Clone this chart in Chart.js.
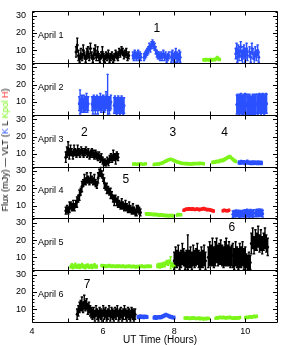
<!DOCTYPE html>
<html>
<head>
<meta charset="utf-8">
<script src="https://cdn.jsdelivr.net/npm/chart.js@4.4.1/dist/chart.umd.min.js"></script>
<style>
  body { margin: 0; background: #fff; }
  #wrap { position: relative; width: 282px; height: 345px; }
  #ytitle {
    position: absolute; left: 5px; top: 150px;
    transform: translate(-50%, -50%) rotate(-90deg);
    white-space: nowrap; font: 9px "Liberation Sans", Arial, sans-serif; color: #000;
  }
</style>
</head>
<body>
<div id="wrap">
  <canvas id="myChart" width="282" height="345"></canvas>
  <div id="ytitle">Flux (mJy) — VLT (<span style="color:#2b50ff">K</span> L <span style="color:#7cf51a">Kpol</span> <span style="color:#ff1a1a">H</span>)</div>
</div>
<script>
let days = ["April 1", "April 2", "April 3", "April 4", "April 5", "April 6"];
let xTickLabels = [4, 6, 8, 10];
let xTickHours = [4, 5, 6, 7, 8, 9, 10];
let yTickLabels = [10, 20, 30];

let bandColors = { L: "#000000", K: "#2b50ff", Kpol: "#7cf51a", H: "#ff1a1a" };

// flare numbers: panel, UT hour, flux, text
let flareLabels = [
  [0, 7.51, 22.5, "1"], [2, 5.47, 22, "2"], [2, 7.96, 22, "3"], [2, 9.42, 22, "4"],
  [3, 6.64, 24.7, "5"], [4, 9.62, 27, "6"], [5, 5.55, 24, "7"]
];

// April 1
let a1L = [9,13,7,5,8,6,10,7,5,8,9,6,11,7,5,8,10,6,9,6,5,7,9,6,5,7,6,8,5,6,7,5,6,8,7,6,9,8,10,9,7,8,9,6,7];
let a1LErr = [3,4,3,2,3,2,3,2,2,3,3,2,3,2,2,3,3,2,3,2,2,2,3,2,2,2,2,2,2,2,2,2,2,2,2,2,2,2,2,2,2,2,2,2,2];
let a1K1 = [7,6,8,7,6,7,8,6,7,6];
let a1K2 = [6,7,8,9,10,12,11,13,14,13,12,10,8,7];
let a1K3 = [7,6,7,6,8,6,7,5,6,7];
let a1K4 = [6,7,5,6,8,6,5,7,6];
let a1Kpol = [4.5,4.3,4.6,4.4,4.5,4.3,4.6,4.4,4.5,4.7,4.5,5.2,5.8,4.9,4.6];
let a1K5 = [8,11,6,10,7,9,12,7,5,9,10,6,8,11,7];
let a1K6 = [9,6,11,8,5,9,7,10,6];

// April 2
let a2K1 = [9,10,8,9,10,8,9,8,9,10,8,9];
let a2K1Err = [4,7,4,5,4,4,5,4,4,5,4,4];
let a2K2 = [9,8,10,9,8,9,10,8,9,9,10,8,9,10,9,8,9,11,10,12,9,8,9,10];
let a2K2Err = [4,5,4,4,5,4,4,5,4,4,5,4,4,4,5,4,4,5,4,14,4,5,4,4];
let a2K3 = [8,9,8,7,8,9,8,7,8,9,8,7,8];
let a2K4 = [8.5,9,8.5,8,9,9.5,8.5,8,9,8.5,9.5,9];
let a2K5 = [8,9,8,9,8,7.5,8,9,8,9,8,9];
let a2K6 = [9,8,9,9.5,9,8,9,9.5,9,8,9,9.5,9];

// April 3
let a3L = [8,11,13,10,12,11,9,12,11,10,12,11,10,12,11,10,11,12,10,11,9,10,11,10,9,10,9,8,9,7,8,6,5,5,4,6,5,7,8,7,9,8,7,9,8];
let a3LErr = [3,3,4,3,3,2,2,3,2,2,3,2,2,2,2,2,2,2,2,2,2,2,2,2,2,2,2,2,2,2,2,2,2,2,2,2,2,2,2,2,3,2,3,2,2];
let a3Kpol1 = [4,4.2,3.9,4.1,4,4.3,4.1,3.9,4,4.2];
let a3Kpol2 = [3.8,3.9,4.0,4.1,4.0,4.3,4.5,4.8,5.2,5.6,6.0,6.4,6.6,6.8,6.6,6.4,6.0,5.7,5.4,5.1,4.9,4.7,4.5,4.4,4.3,4.2,4.3,4.1,4.2,4.0,4.1,4.3,4.2,4.4,4.3,4.2,4.5,4.4,4.3,4.2];
let a3Kpol3 = [5.0,5.2,5.1,5.4,5.6,5.5,5.9,6.2,6.0,6.4,6.8,7.2,7.6,8.0,8.3,7.9,7.2,6.6,6.0,5.6];
let a3K = [5.0,4.8,5.2,4.9,5.1,4.7,5.0,5.3,4.9,4.8,4.6,4.9,4.7,5.0,4.8,4.6,4.9,4.7,4.8,4.6];

// April 4
let a4L = [7,8,7,9,10,9,10,9,11,12,14,16,18,21,23,25,24,26,25,24,26,25,24,25,23,22,26,29,30,28,26,23,21,20,19,18,17,16,14,13,14,12,12,11,10,11,10,9,10,9,8,9,8,7,8,7,6,7,8,7,6];
let a4LErr = [2,2,2,3,2,2,3,2,2,3,2,3,2,3,2,3,2,3,2,2,3,2,2,3,2,2,3,2,3,2,2,3,2,3,2,2,3,2,2,3,2,2,3,2,2,3,2,2,3,2,2,3,2,2,3,2,2,3,2,2,2];
let a4Kpol1 = [5.2,5.0,5.3,4.9,5.1,4.8,5.0,4.7,4.9,4.6,4.8,4.5,4.4,4.6,4.3,4.5,4.2,4.4,4.1,4.3,4.0,4.2,4.1,4.3,4.0];
let a4Kpol2 = [4.5,4.8,4.6,4.7];
let a4H1 = [7.2,7.5,7.8,8.0,7.9,8.2,8.0,7.8,8.1,7.9,7.7,7.9,8.0,7.8,7.6,7.8,7.9,8.1,8.3,8.0,7.8,7.6,7.7,7.5,7.4,7.2,7.0,6.8];
let a4H2 = [7.0,7.2,7.1,6.9,7.0,7.2];
let a4K1 = [5.0,5.4,5.1,5.6,5.2,5.5,5.0,5.3,5.1,5.4];
let a4K2 = [5.3,5.6,5.2,5.8,5.4,5.1,5.7,5.5,5.2,5.6];
let a4K3 = [5.5,5.9,5.4,6.0,5.6,5.8,5.3];

// April 5
let a5Kpol1 = [4.5,5.5,4.2,4.8,5.8,4.4,4.6,5.2,4.3,4.9,5.6,4.5,4.7,4.2,5.0,5.4,4.4,4.6,5.1,4.3,4.8,5.5,4.5,4.6];
let a5Kpol2 = [5.2,4.9,5.1,4.7,5.0,4.8,5.2,4.9,4.7,5.0,4.8,4.6,4.9,4.7,5.0,4.8,4.6,4.9,4.7,4.5,4.8,4.6,4.9,4.7,4.5,4.8,4.6,4.4,4.7,4.5,4.8,4.6,4.9,4.7,4.5,4.8,4.6,4.9,4.7,4.8];
let a5Kpol3 = [5.0,5.4,4.8,5.6,5.2,6.0,5.5,6.6,7.2,6.4,7.5,6.8,5.8,5.2,4.9];
let a5Kpol3Err = [1,1,1,1,1,1,1,1,1,1,1,3.5,1,1,1];
let a5L1 = [8,10,9,11,8,9,12,10,8,9,13,9,10,8,11,9,10,12,9,8,10,9,11,8];
let a5L1Err = [5,6,5,6,5,5,6,5,5,5,10,5,6,5,6,5,5,6,5,5,6,5,6,5];
let a5L2 = [10,12,11,13,10,12,14,11,12,13,11,10,12,13,11,12,10,11];
let a5L2Err = [6,7,6,8,6,7,7,6,6,7,6,6,7,8,6,7,6,6];
let a5L3 = [11,9,12,10,9,11,10,12,9,10];
let a5L3Err = [7,6,7,6,6,7,6,7,6,6];
let a5L4 = [8,7,8,7];
let a5L4Err = [4,4,5,4];
let a5L5 = [18,21,17,20,19,22,18,20,17,19,21,18,16];
let a5L5Err = [6,6,5,6,5,6,5,6,5,5,6,5,5];

// April 6
let a6L = [7,9,11,12,13,11,14,12,13,10,11,9,8,7,8,6,9,7,6,8,7,6,9,7,8,6,7,9,6,8,7,6,8,7,9,6,7,8,6,7,9,7,6,8,7,6,8,7,6,7];
let a6LErr = [3,3,3,3,4,3,4,3,3,3,3,3,3,3,3,3,3,3,3,3,3,3,3,3,3,3,3,3,3,3,3,3,3,3,3,3,3,3,3,3,3,3,3,3,3,3,3,3,3,3];
let a6K1 = [5.5,5.2,5.8,5.4,5.6,5.3,5.7,5.5,5.4];
let a6K2 = [5.0,5.3,4.9,5.2,5.4,5.1,5.3,5.6,5.9,6.3,6.6,6.4,6.1,5.8,5.5,5.3,5.1,5.0];
let a6Kpol1 = [4.8,4.6,4.9,4.7,4.5,4.8,4.6,4.9,4.7,4.5,4.6,4.8,4.4,4.7,4.5,4.3,4.6,4.4,4.7,4.5];
let a6Kpol2 = [4.7,5.0,4.8,5.3,5.1,4.9,5.2,5.0,4.8,5.1,4.9,5.3,5.0,4.8,4.6,4.9,4.7,5.0,4.8,5.1];
let a6Kpol3 = [5.0,5.3,5.1,5.4,5.6,5.3,5.5,5.8,5.6,5.9];

// panel, band, first UT, last UT, fluxes, errors
let segments = [
  [0, "L", 5.24, 6.72, a1L, a1LErr],
  [0, "K", 6.84, 7.06, a1K1, 2],
  [0, "K", 7.15, 7.54, a1K2, 2],
  [0, "K", 7.57, 7.85, a1K3, 2],
  [0, "K", 7.92, 8.17, a1K4, 3],
  [0, "Kpol", 8.83, 9.28, a1Kpol, 0.6],
  [0, "K", 9.73, 10.06, a1K5, 3],
  [0, "K", 10.12, 10.38, a1K6, 3],

  [1, "K", 5.33, 5.58, a2K1, a2K1Err],
  [1, "K", 5.69, 6.22, a2K2, a2K2Err],
  [1, "K", 6.31, 6.59, a2K3, 4.5],
  [1, "K", 9.76, 10.02, a2K4, 5.5],
  [1, "K", 10.05, 10.30, a2K5, 5.5],
  [1, "K", 10.33, 10.60, a2K6, 5.5],

  [2, "L", 4.95, 6.42, a3L, a3LErr],
  [2, "Kpol", 6.85, 7.20, a3Kpol1, 0.5],
  [2, "Kpol", 7.43, 8.83, a3Kpol2, 0.6],
  [2, "Kpol", 9.08, 9.73, a3Kpol3, 0.7],
  [2, "K", 9.82, 10.46, a3K, 0.9],

  [3, "L", 4.95, 7.05, a4L, a4LErr],
  [3, "Kpol", 7.21, 7.97, a4Kpol1, 0.6],
  [3, "Kpol", 8.08, 8.19, a4Kpol2, 0.6],
  [3, "H", 8.27, 9.11, a4H1, 0.6],
  [3, "H", 9.37, 9.54, a4H2, 0.6],
  [3, "K", 9.65, 9.93, a4K1, 1.8],
  [3, "K", 9.96, 10.24, a4K2, 2],
  [3, "K", 10.29, 10.49, a4K3, 2],

  [4, "Kpol", 5.09, 5.82, a5Kpol1, 0.8],
  [4, "Kpol", 5.96, 7.34, a5Kpol2, 0.6],
  [4, "Kpol", 7.53, 8.0, a5Kpol3, a5Kpol3Err],
  [4, "L", 8.0, 8.88, a5L1, a5L1Err],
  [4, "L", 8.96, 9.62, a5L2, a5L2Err],
  [4, "L", 9.65, 10.0, a5L3, a5L3Err],
  [4, "L", 10.03, 10.14, a5L4, a5L4Err],
  [4, "L", 10.17, 10.63, a5L5, a5L5Err],

  [5, "L", 5.27, 6.90, a6L, a6LErr],
  [5, "K", 6.98, 7.24, a6K1, 0.8],
  [5, "K", 7.43, 8.0, a6K2, 0.8],
  [5, "Kpol", 8.30, 8.97, a6Kpol1, 0.6],
  [5, "Kpol", 9.17, 9.85, a6Kpol2, 0.6],
  [5, "Kpol", 10.0, 10.32, a6Kpol3, 0.6]
];

let font = "'Liberation Sans', Arial, sans-serif";

let datasets = segments.map(([panel, band, t0, t1, vals, errs]) => ({
  data: vals.map((v, i) => ({ x: t0 + (t1 - t0) * i / (vals.length - 1), y: v })),
  errs: vals.map((v, i) => Array.isArray(errs) ? errs[i] : errs),
  yAxisID: "y" + panel,
  backgroundColor: bandColors[band],
  borderColor: bandColors[band],
  pointRadius: 1.5,
  pointBorderWidth: 0,
  showLine: false
}));

let scales = {
  x: {
    type: "linear", position: "bottom", min: 4, max: 10.92,
    afterBuildTicks: s => { s.ticks = xTickLabels.map(v => ({ value: v })); },
    afterFit: s => { s.height = 23; },
    grid: { display: false, drawTicks: false },
    border: { display: false },
    ticks: { padding: 4, color: "#000", font: { family: font, size: 9 } }
  }
};
days.forEach((d, k) => {
  scales["y" + k] = {
    type: "linear", position: "left", stack: "days", stackWeight: 1, weight: 6 - k,
    min: 2.5, max: 32.5,
    afterBuildTicks: s => { s.ticks = yTickLabels.map(v => ({ value: v })); },
    afterFit: s => { s.width = 32; },
    grid: { display: false, drawTicks: false },
    border: { display: false },
    ticks: { padding: 6, color: "#000", font: { family: font, size: 9 } }
  };
});

// error bars, frame, inward ticks and panel texts
let framePlugin = {
  id: "frame",
  beforeDatasetsDraw(chart) {
    const { ctx, chartArea: a } = chart;
    const x = chart.scales.x;
    chart.data.datasets.forEach(ds => {
      const ys = chart.scales[ds.yAxisID];
      ctx.save();
      ctx.beginPath();
      ctx.rect(a.left, ys.top, a.right - a.left, ys.bottom - ys.top);
      ctx.clip();
      ctx.strokeStyle = ds.borderColor;
      ctx.lineWidth = 1.4;
      ctx.beginPath();
      ds.data.forEach((p, j) => {
        const px = x.getPixelForValue(p.x);
        const lo = ys.getPixelForValue(p.y - ds.errs[j]);
        const hi = ys.getPixelForValue(p.y + ds.errs[j]);
        ctx.moveTo(px, lo); ctx.lineTo(px, hi);
        ctx.moveTo(px - 1.2, lo); ctx.lineTo(px + 1.2, lo);
        ctx.moveTo(px - 1.2, hi); ctx.lineTo(px + 1.2, hi);
      });
      ctx.stroke();
      ctx.restore();
    });
  },
  afterDraw(chart) {
    const { ctx, chartArea: a } = chart;
    const x = chart.scales.x;
    ctx.save();
    ctx.strokeStyle = "#000";
    ctx.lineWidth = 1;
    ctx.fillStyle = "#000";
    days.forEach((day, k) => {
      const ys = chart.scales["y" + k];
      const top = Math.round(ys.top) + 0.5, bot = Math.round(ys.bottom) + 0.5;
      ctx.beginPath();
      ctx.rect(a.left + 0.5, top, a.right - a.left - 1, bot - top);
      xTickHours.forEach(h => {
        const px = Math.round(x.getPixelForValue(h)) + 0.5;
        ctx.moveTo(px, bot); ctx.lineTo(px, bot - 4);
        ctx.moveTo(px, top); ctx.lineTo(px, top + 4);
      });
      for (let v = 4; v <= 32; v += 2) {
        const py = Math.round(ys.getPixelForValue(v)) + 0.5;
        const len = v % 10 === 0 ? 5 : 2.5;
        ctx.moveTo(a.left, py); ctx.lineTo(a.left + len, py);
        ctx.moveTo(a.right, py); ctx.lineTo(a.right - len, py);
      }
      ctx.stroke();
      ctx.font = "9px " + font;
      ctx.textAlign = "left";
      ctx.textBaseline = "middle";
      ctx.fillText(day, x.getPixelForValue(4.17), ys.getPixelForValue(18.5));
    });
    ctx.font = "12px " + font;
    ctx.textAlign = "center";
    flareLabels.forEach(([k, t, f, s]) => {
      ctx.fillText(s, x.getPixelForValue(t), chart.scales["y" + k].getPixelForValue(f));
    });
    ctx.font = "10px " + font;
    ctx.fillText("UT Time (Hours)", x.getPixelForValue(7.6), x.bottom - 4.5);
    ctx.restore();
  }
};

let ctx = document.getElementById("myChart").getContext("2d");

let myChart = new Chart(ctx, {
  type: "scatter",
  data: { datasets: datasets },
  options: {
    responsive: false,
    animation: false,
    devicePixelRatio: 1,
    layout: { padding: { top: 0, right: 3.5, bottom: 0, left: 0 } },
    scales: scales,
    plugins: { legend: { display: false }, tooltip: { enabled: false } }
  },
  plugins: [framePlugin]
});
</script>
</body>
</html>
